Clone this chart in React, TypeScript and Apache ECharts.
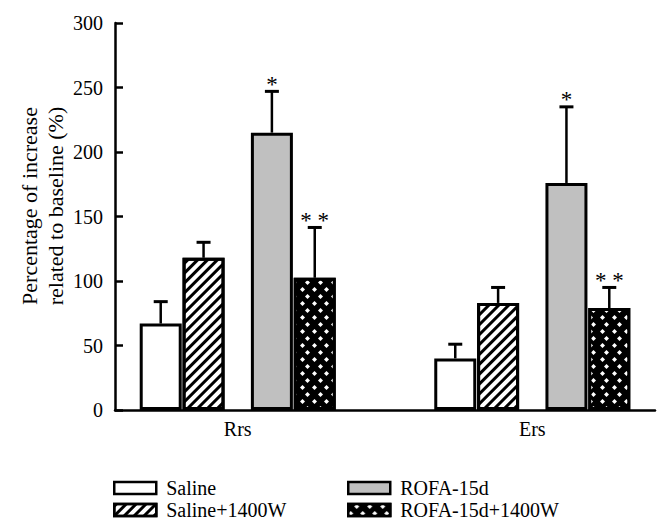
import React, { useEffect, useRef } from 'react';
import * as echarts from 'echarts';

// ---- data ----
const groups = ['Rrs', 'Ers'];
const seriesNames = ['Saline', 'Saline+1400W', 'ROFA-15d', 'ROFA-15d+1400W'];
const salineVals = [67, 40];
const salineErr = [17, 11];
const saline1400Vals = [118, 83];
const saline1400Err = [12, 12];
const rofaVals = [215, 176];
const rofaErr = [32, 59];
const rofa1400Vals = [102.5, 79];
const rofa1400Err = [39, 16];
const salineMarks = ['', ''];
const saline1400Marks = ['', ''];
const rofaMarks = ['*', '*'];
const rofa1400Marks = ['* *', '* *'];
const yMin = 0;
const yMax = 300;
const yStep = 50;

// ---- layout helpers (not data) ----
const FONT = 'Liberation Serif, serif';
const SLOT_COUNT = 11;
const groupSlots = [2, 8];
const BAR_W = 42;
const SPACER_W = 25;
const GAP = 0.02;
// column order on the axis: Saline, Saline+1400W, spacer, ROFA, ROFA+1400W
const colWidths = [BAR_W, BAR_W, SPACER_W, BAR_W, BAR_W];
const colCenters: number[] = (() => {
  let sum = 0;
  colWidths.forEach((w) => (sum += w * (1 + GAP)));
  sum -= colWidths[colWidths.length - 1] * GAP;
  let off = -sum / 2;
  return colWidths.map((w) => {
    const c = off + w / 2;
    off += w * (1 + GAP);
    return c;
  });
})();
const seriesColIndex = [0, 1, 3, 4];

const slotCats = Array.from({ length: SLOT_COUNT }, (_, i) => String(i));
const slotLabel = (i: number) => {
  const g = groupSlots.indexOf(i);
  return g >= 0 ? groups[g] : '';
};
const toSlots = (vals: number[]) => {
  const arr: (number | string)[] = Array(SLOT_COUNT).fill('-');
  groupSlots.forEach((s, g) => (arr[s] = vals[g]));
  return arr;
};

const allVals = [salineVals, saline1400Vals, rofaVals, rofa1400Vals];
const allErrs = [salineErr, saline1400Err, rofaErr, rofa1400Err];
const allMarks = [salineMarks, saline1400Marks, rofaMarks, rofa1400Marks];

type ErrRow = { slot: number; v: number; e: number; s: number; mark: string };
const errRows: ErrRow[] = [];
allVals.forEach((vals, s) => {
  vals.forEach((v, g) => {
    errRows.push({ slot: groupSlots[g], v, e: allErrs[s][g], s, mark: allMarks[s][g] });
  });
});

const hatchDecal = {
  symbol: 'rect',
  symbolSize: 1,
  color: '#000',
  backgroundColor: '#fff',
  dashArrayX: [1, 0],
  dashArrayY: [2.6, 3.2],
  rotation: -Math.PI / 4,
};
const crossDecal = {
  symbol: 'diamond',
  symbolSize: 1,
  color: '#fff',
  backgroundColor: '#000',
  dashArrayX: [
    [4.5, 7],
    [0, 5.75, 4.5, 1.25],
  ],
  dashArrayY: [4.5, 1.3],
  rotation: 0,
};

const barStyles = [
  { color: '#fff', borderColor: '#000', borderWidth: 3 },
  { color: '#fff', borderColor: '#000', borderWidth: 3, decal: hatchDecal },
  { color: '#c0c0c0', borderColor: '#000', borderWidth: 3 },
  { color: '#000', borderColor: '#000', borderWidth: 3, decal: crossDecal },
];

export default function App() {
  const ref = useRef<HTMLDivElement>(null);
  useEffect(() => {
    if (!ref.current) return;
    const chart = echarts.init(ref.current, undefined, { renderer: 'svg' });

    const barSeries: any[] = seriesNames.map((name, i) => ({
      name,
      type: 'bar',
      data: toSlots(allVals[i]),
      barWidth: BAR_W,
      barGap: `${GAP * 100}%`,
      itemStyle: barStyles[i],
      z: 2,
    }));
    const spacer = {
      name: '__spacer',
      type: 'bar',
      data: Array(SLOT_COUNT).fill('-'),
      barWidth: SPACER_W,
      barGap: `${GAP * 100}%`,
      silent: true,
    };
    const series: any[] = [barSeries[0], barSeries[1], spacer, barSeries[2], barSeries[3]];

    series.push({
      type: 'custom',
      name: 'err',
      z: 5,
      silent: true,
      encode: { x: 0, y: 1 },
      data: errRows.map((r) => [r.slot, r.v + r.e]),
      renderItem: (params: any, api: any) => {
        const r = errRows[params.dataIndex];
        const base = api.coord([r.slot, r.v]);
        const top = api.coord([r.slot, r.v + r.e]);
        const x = base[0] + colCenters[seriesColIndex[r.s]];
        const children: any[] = [
          {
            type: 'line',
            shape: { x1: x, y1: base[1], x2: x, y2: top[1] },
            style: { stroke: '#000', lineWidth: 2.5 },
          },
          {
            type: 'line',
            shape: { x1: x - 7, y1: top[1], x2: x + 7, y2: top[1] },
            style: { stroke: '#000', lineWidth: 3 },
          },
        ];
        if (r.mark) {
          children.push({
            type: 'text',
            x,
            y: top[1] - 7,
            style: {
              text: r.mark,
              fill: '#000',
              fontFamily: FONT,
              fontSize: 23,
              textAlign: 'center',
              textVerticalAlign: 'middle',
              align: 'center',
              verticalAlign: 'middle',
            },
          });
        }
        return { type: 'group', children };
      },
    });

    const legendCommon = {
      orient: 'vertical',
      top: 478,
      itemWidth: 42,
      itemHeight: 12,
      itemGap: 2,
      padding: 0,
      icon: 'rect',
      selectedMode: false,
      itemStyle: { borderWidth: 2.5, borderColor: '#000' },
      textStyle: {
        fontFamily: FONT,
        fontSize: 20,
        lineHeight: 20,
        color: '#000',
        padding: [0, 0, 0, 5],
      },
    };

    chart.setOption({
      animation: false,
      backgroundColor: '#fff',
      grid: { left: 115, right: 14, top: 23, bottom: 115, containLabel: false },
      xAxis: {
        type: 'category',
        data: slotCats,
        axisLine: { show: true, lineStyle: { color: '#000', width: 2.5 } },
        axisTick: { show: false },
        axisLabel: {
          interval: 0,
          formatter: (_v: string, i: number) => slotLabel(i),
          color: '#000',
          fontFamily: FONT,
          fontSize: 20,
          margin: 9,
        },
        splitLine: { show: false },
      },
      yAxis: {
        type: 'value',
        min: yMin,
        max: yMax,
        interval: yStep,
        axisLine: { show: true, lineStyle: { color: '#000', width: 2.5 } },
        axisTick: { show: true, inside: true, length: 8, lineStyle: { color: '#000', width: 2.5 } },
        axisLabel: { color: '#000', fontFamily: FONT, fontSize: 20, margin: 12 },
        splitLine: { show: false },
      },
      legend: [
        { ...legendCommon, left: 113, data: [seriesNames[0], seriesNames[1]] },
        { ...legendCommon, left: 347, data: [seriesNames[2], seriesNames[3]] },
      ],
      graphic: [
        {
          type: 'text',
          x: 42,
          y: 206,
          rotation: Math.PI / 2,
          style: {
            text: 'Percentage of increase\nrelated to baseline (%)',
            fill: '#000',
            fontFamily: FONT,
            fontSize: 22,
            lineHeight: 26,
            textAlign: 'center',
            textVerticalAlign: 'middle',
            align: 'center',
            verticalAlign: 'middle',
          },
        },
      ],
      series,
    });

    return () => chart.dispose();
  }, []);

  return (
    <div
      ref={ref}
      style={{ position: 'fixed', left: 0, top: 0, width: 669, height: 525, background: '#fff' }}
    />
  );
}
